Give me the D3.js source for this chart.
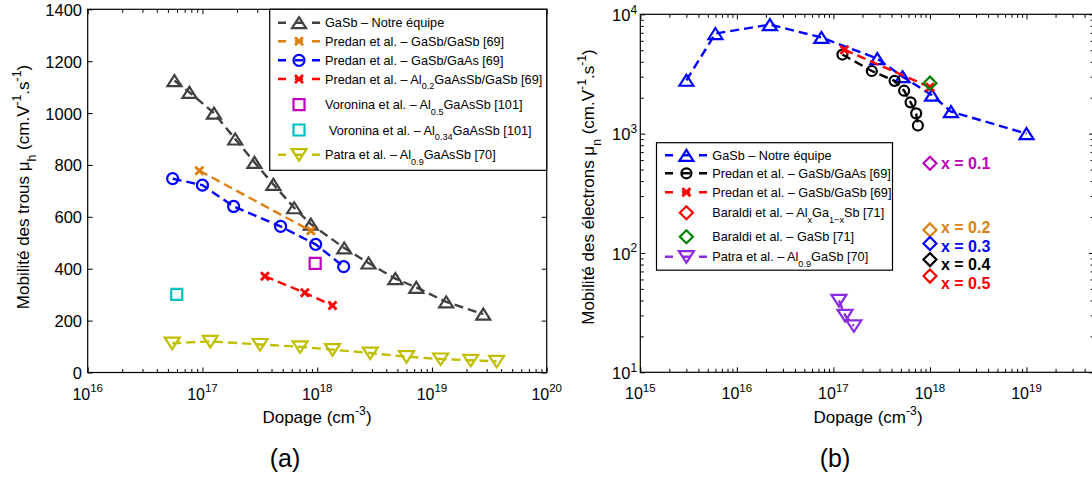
<!DOCTYPE html>
<html><head><meta charset="utf-8">
<script src="https://cdn.jsdelivr.net/npm/d3@7"></script>
<style>
body{margin:0;background:#fff}
svg{display:block}
text{font-family:Arial,"Liberation Sans",Helvetica,sans-serif;fill:#000}
</style></head>
<body><svg id="chart" width="1092" height="479"></svg>
<script>
// ---------------- DATA: panel (a) hole mobility ----------------
const holeGaSbX   = [5.7e16,7.7e16,1.26e17,1.93e17,2.84e17,4.15e17,6.3e17,8.8e17,1.72e18,2.8e18,4.8e18,7.3e18,1.33e19,2.8e19];
const holeGaSbY   = [1125,1080,1000,900,810,725,635,572,480,422,362,328,272,225];
const holePredGaSbX = [9.4e16,8.8e17];
const holePredGaSbY = [778,546];
const holePredGaAsX = [5.5e16,1.0e17,1.87e17,4.8e17,9.7e17,1.7e18];
const holePredGaAsY = [747,722,640,563,494,408];
const holePredAlX = [3.5e17,7.8e17,1.36e18];
const holePredAlY = [371,307,258];
const holeVor05X = [9.6e17], holeVor05Y = [421];
const holeVor034X = [5.97e16], holeVor034Y = [301];
const holePatraX = [5.45e16,1.17e17,3.18e17,7.1e17,1.36e18,2.9e18,6.0e18,1.19e19,2.18e19,3.66e19];
const holePatraY = [113,120,108,99,88,75,61,52,47,43];
const holeXTicks = [1e16,1e17,1e18,1e19,1e20];
const holeXTickExp = ["16","17","18","19","20"];
const holeYTicks = [0,200,400,600,800,1000,1200,1400];

// ---------------- DATA: panel (b) electron mobility ----------------
const elGaSbX = [3.0e15,6.0e15,2.2e16,7.5e16,2.85e17,5.2e17,1.05e18,1.65e18,1.0e19];
const elGaSbY = [2800,6900,8200,6400,4250,3000,2100,1530,1000];
const elPredGaAsX = [1.24e17,2.5e17,4.3e17,5.4e17,6.3e17,7.2e17,7.5e17];
const elPredGaAsY = [4600,3350,2770,2290,1830,1480,1170];
const elPredGaSbX = [1.3e17,1.0e18];
const elPredGaSbY = [5050,2450];
const elBaraldiGaSbX = [1.0e18], elBaraldiGaSbY = [2650];
const elBaraldiAlX = [1e18,1e18,1e18,1e18,1e18];
const elBaraldiAlY = [564,156,120,88,64];
const elBaraldiLabels = ["x = 0.1","x = 0.2","x = 0.3","x = 0.4","x = 0.5"];
const elBaraldiLabelY = [564,165,115,80.5,56.5];
const elPatraX = [1.14e17,1.32e17,1.63e17];
const elPatraY = [40,30,24.5];
const elXTicks = [1e15,1e16,1e17,1e18,1e19];
const elXTickExp = ["15","16","17","18","19"];
const elYTicks = [10,100,1000,10000];
const elYTickExp = ["1","2","3","4"];

// ---------------- STYLES ----------------
const C = {gray:"#404040",orange:"#DF7F10",blue:"#0000FF",red:"#FF0000",mag:"#BF00BF",
           cyan:"#00BFBF",olive:"#BFBF00",purple:"#8A2BE2",green:"#008000",black:"#000000"};
const baraldiColors = [C.mag,C.orange,C.blue,C.black,C.red];
const M = {
  triUp:"M0,-5.5L7,5.5L-7,5.5Z",
  triDown:"M-7.5,-5.5L7.5,-5.5L0,6Z",
  circle:"M5.5,0A5.5,5.5 0 1,1 -5.5,0A5.5,5.5 0 1,1 5.5,0Z",
  circleS:"M5,0A5,5 0 1,1 -5,0A5,5 0 1,1 5,0Z",
  cross:"M-4,-4L4,4M-4,4L4,-4",
  square:"M-5.5,-5.5H5.5V5.5H-5.5Z",
  diamond:"M0,-6.5L6.5,0L0,6.5L-6.5,0Z"
};
const LW = 2.4, MW = 2.2;

const svg = d3.select("#chart");

// rich text with sub/superscripts
function rich(sel, segs, fs){
  let shift = 0;
  segs.forEach(s=>{
    const t = Array.isArray(s)?s[0]:s, k = Array.isArray(s)?s[1]:null;
    const target = k==="sub" ? fs*0.42 : k==="sup" ? -fs*0.45 : 0;
    const ts = sel.append("tspan").text(t);
    if (target-shift !== 0) ts.attr("dy", target-shift);
    if (k) ts.attr("font-size", fs*0.72);
    shift = target;
  });
  return sel;
}

function frame(g, x, y, opt){
  const [x0,x1] = x.range(), [y0,y1] = y.range(); // y0 bottom
  const tl = 5;
  g.append("g").attr("transform",`translate(0,${y0})`)
    .call(d3.axisBottom(x).tickValues(opt.xMajor).tickSize(-tl).tickFormat(""));
  g.append("g").attr("transform",`translate(0,${y1})`)
    .call(d3.axisTop(x).tickValues(opt.xMajor).tickSize(-tl).tickFormat(""));
  g.append("g").attr("transform",`translate(0,${y0})`)
    .call(d3.axisBottom(x).tickValues(opt.xMinor).tickSize(-3.5).tickFormat(""));
  g.append("g").attr("transform",`translate(0,${y1})`)
    .call(d3.axisTop(x).tickValues(opt.xMinor).tickSize(-3.5).tickFormat(""));
  g.append("g").attr("transform",`translate(${x0},0)`)
    .call(d3.axisLeft(y).tickValues(opt.yMajor).tickSize(-tl).tickFormat(""));
  g.append("g").attr("transform",`translate(${x1},0)`)
    .call(d3.axisRight(y).tickValues(opt.yMajor).tickSize(-tl).tickFormat(""));
  if (opt.yMinor){
    g.append("g").attr("transform",`translate(${x0},0)`)
      .call(d3.axisLeft(y).tickValues(opt.yMinor).tickSize(-3.5).tickFormat(""));
    g.append("g").attr("transform",`translate(${x1},0)`)
      .call(d3.axisRight(y).tickValues(opt.yMinor).tickSize(-3.5).tickFormat(""));
  }
  g.selectAll(".domain").remove();
  g.selectAll(".tick line").attr("stroke","#000").attr("stroke-width",1);
  g.append("rect").attr("x",x0).attr("y",y1).attr("width",x1-x0).attr("height",y0-y1)
    .attr("fill","none").attr("stroke","#000").attr("stroke-width",1.2);
  opt.xMajor.forEach((v,i)=>{
    const t = g.append("text").attr("x",x(v)).attr("y",y0+27).attr("text-anchor","middle")
      .attr("font-size",16);
    rich(t,["10",[opt.xExp[i],"sup"]],16);
  });
}

function minorLog(lo, hi){
  const out=[];
  for (let e=Math.floor(Math.log10(lo)); e<=Math.ceil(Math.log10(hi)); e++)
    for (let m=2;m<=9;m++){ const v=m*Math.pow(10,e); if (v>lo && v<hi) out.push(v); }
  return out;
}

function series(g, x, y, xs, ys, st){
  const pts = xs.map((v,i)=>[v,ys[i]]);
  if (st.dash){
    g.append("path").datum(pts)
      .attr("d", d3.line().x(d=>x(d[0])).y(d=>y(d[1])))
      .attr("fill","none").attr("stroke",st.color).attr("stroke-width",LW)
      .attr("stroke-dasharray","9,5");
  }
  g.selectAll(null).data(pts).enter().append("path")
    .attr("transform",d=>`translate(${x(d[0])},${y(d[1])})`)
    .attr("d",st.marker).attr("fill","none").attr("stroke",st.color)
    .attr("stroke-width", st.sw||MW);
}

function legend(g, box, rows){
  g.append("rect").attr("x",box.x).attr("y",box.y).attr("width",box.w).attr("height",box.h)
    .attr("fill","#fff").attr("stroke","#000").attr("stroke-width",1.2);
  rows.forEach(r=>{
    if (r.dash) g.append("line").attr("x1",box.lx0).attr("x2",box.lx1).attr("y1",r.y).attr("y2",r.y)
      .attr("stroke",r.color).attr("stroke-width",LW).attr("stroke-dasharray","8,9");
    g.append("path").attr("transform",`translate(${box.mx},${r.y})`).attr("d",r.marker)
      .attr("fill","none").attr("stroke",r.color).attr("stroke-width",r.sw||MW);
    const t = g.append("text").attr("x",r.tx||box.tx).attr("y",r.y+4.5).attr("font-size",12.7);
    rich(t, r.segs, 12.7);
  });
}

// ================= PANEL (a) =================
const xL = d3.scaleLog().domain([1e16,1e20]).range([87.7,546.7]);
const yL = d3.scaleLinear().domain([0,1400]).range([372.5,9.3]);
const gA = svg.append("g");
frame(gA, xL, yL, {xMajor:holeXTicks, xExp:holeXTickExp, xMinor:minorLog(1e16,1e20), yMajor:holeYTicks});
holeYTicks.forEach(v=>{
  gA.append("text").attr("x",82).attr("y",yL(v)+6.5).attr("text-anchor","end").attr("font-size",16.5).text(v);
});
series(gA,xL,yL,holeGaSbX,holeGaSbY,{color:C.gray,marker:M.triUp,dash:true});
series(gA,xL,yL,holePredGaSbX,holePredGaSbY,{color:C.orange,marker:M.cross,dash:true,sw:2.8});
series(gA,xL,yL,holePredGaAsX,holePredGaAsY,{color:C.blue,marker:M.circle,dash:true});
series(gA,xL,yL,holePredAlX,holePredAlY,{color:C.red,marker:M.cross,dash:true,sw:2.8});
series(gA,xL,yL,holeVor05X,holeVor05Y,{color:C.mag,marker:M.square});
series(gA,xL,yL,holeVor034X,holeVor034Y,{color:C.cyan,marker:M.square});
series(gA,xL,yL,holePatraX,holePatraY,{color:C.olive,marker:M.triDown,dash:true});

legend(gA,{x:269.7,y:9.3,w:277,h:161,lx0:278,lx1:320,mx:299,tx:325},[
  {y:22.7,color:C.gray,marker:M.triUp,dash:true,segs:["GaSb – Notre équipe"]},
  {y:41.3,color:C.orange,marker:M.cross,dash:true,sw:2.8,segs:["Predan et al. – GaSb/GaSb [69]"]},
  {y:60.3,color:C.blue,marker:M.circle,dash:true,segs:["Predan et al. – GaSb/GaAs [69]"]},
  {y:79,color:C.red,marker:M.cross,dash:true,sw:2.8,segs:["Predan et al. – Al",["0.2","sub"],"GaAsSb/GaSb [69]"]},
  {y:104.7,color:C.mag,marker:M.square,segs:["Voronina et al. – Al",["0.5","sub"],"GaAsSb [101]"]},
  {y:130,color:C.cyan,marker:M.square,tx:329,segs:["Voronina et al. – Al",["0.34","sub"],"GaAsSb [101]"]},
  {y:154.7,color:C.olive,marker:M.triDown,dash:true,segs:["Patra et al. – Al",["0.9","sub"],"GaAsSb [70]"]}
]);

const ylabA = gA.append("text").attr("transform","translate(29,187) rotate(-90)")
  .attr("text-anchor","middle").attr("font-size",17);
rich(ylabA,["Mobilité des trous μ",["h","sub"]," (cm.V",["-1","sup"],".s",["-1","sup"],")"],17);
const xlabA = gA.append("text").attr("x",317).attr("y",422.5).attr("text-anchor","middle").attr("font-size",17);
rich(xlabA,["Dopage (cm",["-3","sup"],")"],17);
gA.append("text").attr("x",285).attr("y",467).attr("text-anchor","middle")
  .attr("font-size",25).attr("font-family","'Liberation Serif','DejaVu Serif',serif").text("(a)");

// ================= PANEL (b) =================
const xR = d3.scaleLog().domain([1e15,5e19]).range([640.3,1094]);
const yR = d3.scaleLog().domain([10,1e4]).range([372.3,14.3]);
const gB = svg.append("g");
frame(gB, xR, yR, {xMajor:elXTicks, xExp:elXTickExp, xMinor:minorLog(1e15,5e19), yMajor:elYTicks, yMinor:minorLog(10,1e4)});
elYTicks.forEach((v,i)=>{
  const t = gB.append("text").attr("x",637).attr("y",yR(v)+6.7).attr("text-anchor","end").attr("font-size",16.5);
  rich(t,["10",[elYTickExp[i],"sup"]],16.5);
});
series(gB,xR,yR,elGaSbX,elGaSbY,{color:C.blue,marker:M.triUp,dash:true});
series(gB,xR,yR,elPredGaAsX,elPredGaAsY,{color:C.black,marker:M.circleS,dash:true});
series(gB,xR,yR,elPredGaSbX,elPredGaSbY,{color:C.red,marker:M.cross,dash:true,sw:3});
elBaraldiAlX.forEach((v,i)=>{
  series(gB,xR,yR,[v],[elBaraldiAlY[i]],{color:baraldiColors[i],marker:M.diamond});
  gB.append("text").attr("x",xR(v)+11).attr("y",yR(elBaraldiLabelY[i])+6)
    .attr("font-size",16).attr("font-weight","bold").style("fill",baraldiColors[i]).text(elBaraldiLabels[i]);
});
series(gB,xR,yR,elBaraldiGaSbX,elBaraldiGaSbY,{color:C.green,marker:M.diamond});
series(gB,xR,yR,elPatraX,elPatraY,{color:C.purple,marker:M.triDown,dash:true});

legend(gB,{x:656.5,y:142.7,w:236,h:127.5,lx0:665,lx1:707.7,mx:686.4,tx:712.3},[
  {y:155.3,color:C.blue,marker:M.triUp,dash:true,segs:["GaSb – Notre équipe"]},
  {y:173.3,color:C.black,marker:M.circleS,dash:true,segs:["Predan et al. – GaSb/GaAs [69]"]},
  {y:192.3,color:C.red,marker:M.cross,dash:true,sw:3,segs:["Predan et al. – GaSb/GaSb [69]"]},
  {y:212.7,color:C.red,marker:M.diamond,segs:["Baraldi et al. – Al",["x","sub"],"Ga",["1−x","sub"],"Sb [71]"]},
  {y:236.7,color:C.green,marker:M.diamond,segs:["Baraldi et al. – GaSb  [71]"]},
  {y:256.7,color:C.purple,marker:M.triDown,dash:true,segs:["Patra et al. – Al",["0.9","sub"],"GaSb [70]"]}
]);

const ylabB = gB.append("text").attr("transform","translate(594,187) rotate(-90)")
  .attr("text-anchor","middle").attr("font-size",17);
rich(ylabB,["Mobilité des électrons μ",["n","sub"]," (cm.V",["-1","sup"],".s",["-1","sup"],")"],17);
const xlabB = gB.append("text").attr("x",868).attr("y",422.5).attr("text-anchor","middle").attr("font-size",17);
rich(xlabB,["Dopage (cm",["-3","sup"],")"],17);
gB.append("text").attr("x",835).attr("y",467).attr("text-anchor","middle")
  .attr("font-size",25).attr("font-family","'Liberation Serif','DejaVu Serif',serif").text("(b)");
</script>
</body></html>
